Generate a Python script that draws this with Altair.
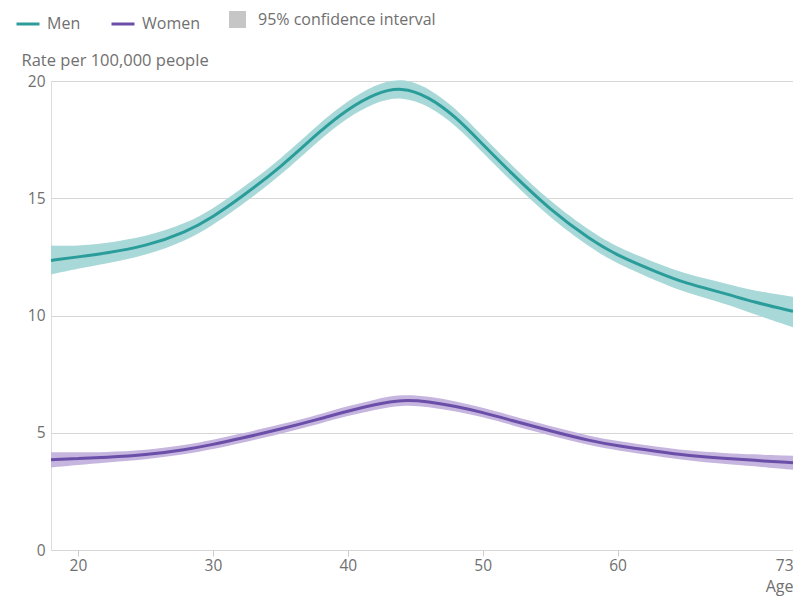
import altair as alt
import pandas as pd

# Age (years)
ages = [18, 20, 22, 25, 28, 30, 32, 35, 38, 40, 42, 44, 46, 48, 50, 52, 55, 58, 60, 63, 65, 68, 70, 73]

# Men: rate per 100,000 and 95% CI
men = [12.35, 12.5, 12.65, 12.95, 13.55, 14.2, 15.0, 16.3, 17.9, 18.8, 19.47, 19.76,
       19.33, 18.48, 17.3, 16.14, 14.5, 13.23, 12.55, 11.83, 11.38, 10.94, 10.58, 10.18]
men_hi = [12.98, 12.97, 13.08, 13.35, 13.92, 14.55, 15.35, 16.65, 18.25, 19.16, 19.85, 20.16,
          19.71, 18.84, 17.65, 16.49, 14.85, 13.58, 12.91, 12.2, 11.78, 11.37, 11.06, 10.8]
men_lo = [11.75, 12.0, 12.2, 12.55, 13.18, 13.85, 14.65, 15.95, 17.55, 18.44, 19.09, 19.36,
          18.95, 18.12, 16.95, 15.79, 14.15, 12.88, 12.19, 11.45, 10.98, 10.5, 10.08, 9.5]

# Women: rate per 100,000 and 95% CI
women = [3.85, 3.9, 3.95, 4.05, 4.28, 4.5, 4.75, 5.15, 5.6, 5.93, 6.2, 6.42,
         6.33, 6.13, 5.87, 5.55, 5.08, 4.65, 4.44, 4.2, 4.04, 3.9, 3.83, 3.72]
women_hi = [4.17, 4.17, 4.17, 4.25, 4.48, 4.7, 4.95, 5.35, 5.8, 6.14, 6.42, 6.65,
            6.55, 6.34, 6.07, 5.75, 5.28, 4.85, 4.64, 4.4, 4.25, 4.13, 4.08, 4.02]
women_lo = [3.52, 3.62, 3.73, 3.85, 4.08, 4.3, 4.55, 4.95, 5.4, 5.72, 5.98, 6.19,
            6.11, 5.92, 5.67, 5.35, 4.88, 4.45, 4.24, 4.0, 3.83, 3.67, 3.58, 3.42]

series_names = ["Men", "Women"]
ci_label = "95% confidence interval"
x_ticks = [20, 30, 40, 50, 60, 73]
y_ticks = [0, 5, 10, 15, 20]

rows = []
for name, r, lo, hi in [("Men", men, men_lo, men_hi), ("Women", women, women_lo, women_hi)]:
    for i, a in enumerate(ages):
        rows.append({"age": a, "series": name, "band_group": "CI " + name,
                     "rate": r[i], "lo": lo[i], "hi": hi[i], "ci": ci_label})
df = pd.DataFrame(rows)

FONT = "Open Sans"
GREY = "#707070"
W, H = 742, 469

x_enc = alt.X(
    "age:Q",
    scale=alt.Scale(domain=[18, 73], nice=False, zero=False),
    axis=alt.Axis(
        values=x_ticks, title="Age", grid=False, domain=False, ticks=True,
        tickColor="#cccccc", tickSize=6, labelPadding=2, labelFontSize=15.5,
        labelColor=GREY, labelFont=FONT, titleFont=FONT, titleFontSize=16,
        titleFontWeight="normal", titleColor=GREY, titleAlign="right",
        titleX=W, titleY=41, titleBaseline="alphabetic",
    ),
)

y_axis = alt.Axis(
    values=y_ticks, title="Rate per 100,000 people", titleAngle=0, titleX=-30,
    titleY=-21, titleAlign="left", titleBaseline="middle", titleFont=FONT,
    titleFontSize=16.5, titleFontWeight="normal", titleColor=GREY,
    domain=False, ticks=False, labelPadding=6, labelFontSize=15.5,
    labelColor=GREY, labelFont=FONT, gridColor="#d6d6d6", gridWidth=1,
)
y_scale = alt.Scale(domain=[0, 20], nice=False)

area = alt.Chart(df).mark_area(interpolate="basis").encode(
    x=x_enc,
    y=alt.Y("lo:Q", scale=y_scale, axis=y_axis),
    y2="hi:Q",
    fill=alt.Fill("band_group:N", scale=alt.Scale(range=["#a9d8d8", "#c6b6df"]), legend=None),
    opacity=alt.Opacity(
        "ci:N",
        scale=alt.Scale(type="ordinal", range=[1]),
        legend=alt.Legend(
            title=None, orient="none", legendX=178, legendY=-70,
            symbolType="square", symbolSize=289, symbolFillColor="#c6c6c6",
            symbolStrokeWidth=0, symbolOpacity=1, labelFontSize=16,
            labelColor=GREY, labelFont=FONT, labelOffset=12, padding=0,
            labelLimit=0,
        ),
    ),
)

line = alt.Chart(df).mark_line(interpolate="basis", strokeWidth=3).encode(
    x=x_enc,
    y=alt.Y("rate:Q", scale=y_scale, axis=y_axis),
    stroke=alt.Stroke(
        "series:N",
        scale=alt.Scale(domain=series_names, range=["#2a9d9b", "#6a4ea8"]),
        legend=alt.Legend(
            title=None, orient="none", direction="horizontal", legendX=-36, legendY=-70,
            symbolType="stroke", symbolSize=529, symbolStrokeWidth=3,
            labelFontSize=16, labelColor=GREY, labelFont=FONT, labelOffset=6,
            columnPadding=24, padding=0, labelLimit=0,
        ),
    ),
)

chart = (
    alt.layer(area, line)
    .properties(
        width=W, height=H,
        padding={"left": 43, "top": 73, "right": 0, "bottom": 46},
        autosize=alt.AutoSizeParams(type="none"),
    )
    .configure_view(stroke=None)
    .configure(font=FONT)
)

chart.save("out.html", embed_options={"renderer": "svg", "actions": False})
